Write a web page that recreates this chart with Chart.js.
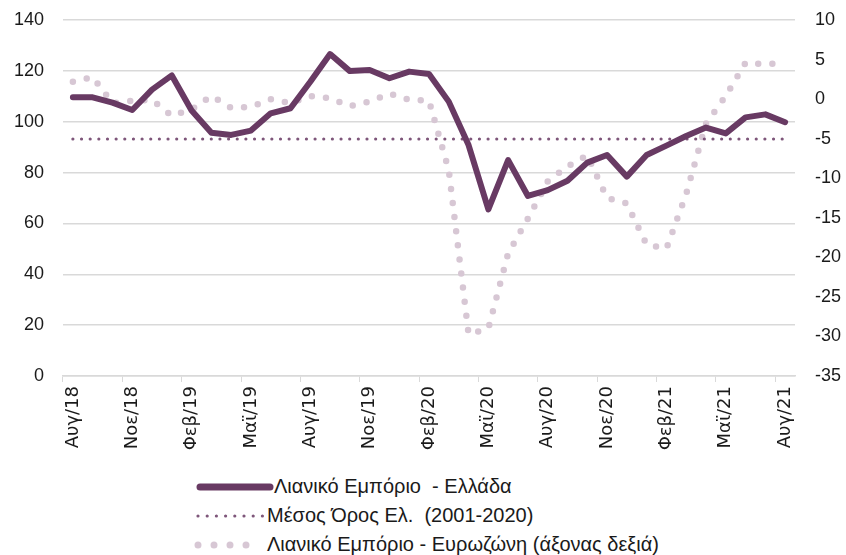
<!DOCTYPE html>
<html lang="el">
<head>
    <meta charset="UTF-8">
    <title>Λιανικό Εμπόριο</title>
    <script src="https://cdn.jsdelivr.net/npm/chart.js"></script>
    <style>
        html, body { margin: 0; padding: 0; background: #fff; }
        #wrap { position: relative; width: 846px; height: 555px; overflow: hidden; }
        #chart { position: absolute; left: 0; top: 0; }
        #legend { position: absolute; left: 190px; top: 472px; font-family: "Liberation Sans", Arial, sans-serif; font-size: 20px; color: #1a1a1a; }
        .row { height: 29px; display: flex; align-items: center; }
        .row svg { flex: none; }
    </style>
</head>
<body>
<div id="wrap">
    <canvas id="chart" width="846" height="470"></canvas>
    <div id="legend">
        <div class="row">
            <svg width="84" height="20"><line x1="10" y1="10" x2="80" y2="10" stroke="#683a63" stroke-width="7" stroke-linecap="round"/></svg>
            <span>Λιανικό Εμπόριο&nbsp; - Ελλάδα</span>
        </div>
        <div class="row">
            <svg width="77" height="20"><line x1="8" y1="10" x2="74" y2="10" stroke="#7e567a" stroke-width="3.2" stroke-linecap="round" stroke-dasharray="0 9.2"/></svg>
            <span>Μέσος Όρος Ελ.&nbsp; (2001-2020)</span>
        </div>
        <div class="row">
            <svg width="77" height="20"><line x1="8" y1="10" x2="72" y2="10" stroke="#d7c7d4" stroke-width="7" stroke-linecap="round" stroke-dasharray="0 16"/></svg>
            <span>Λιανικό Εμπόριο - Ευρωζώνη (άξονας δεξιά)</span>
        </div>
    </div>
</div>

<script>
    const months = ['Αυγ/18', 'Σεπ/18', 'Οκτ/18', 'Νοε/18', 'Δεκ/18', 'Ιαν/19', 'Φεβ/19', 'Μαρ/19', 'Απρ/19',
        'Μαϊ/19', 'Ιουν/19', 'Ιουλ/19', 'Αυγ/19', 'Σεπ/19', 'Οκτ/19', 'Νοε/19', 'Δεκ/19', 'Ιαν/20', 'Φεβ/20',
        'Μαρ/20', 'Απρ/20', 'Μαϊ/20', 'Ιουν/20', 'Ιουλ/20', 'Αυγ/20', 'Σεπ/20', 'Οκτ/20', 'Νοε/20', 'Δεκ/20',
        'Ιαν/21', 'Φεβ/21', 'Μαρ/21', 'Απρ/21', 'Μαϊ/21', 'Ιουν/21', 'Ιουλ/21', 'Αυγ/21'];

    // Greece retail trade (left axis)
    const greece = [109.6, 109.6, 107.5, 104.6, 112.6, 118.2, 104.4, 95.7, 94.8, 96.5, 103.3, 105.3,
        115.7, 126.6, 119.9, 120.3, 117.1, 119.7, 118.8, 107.9, 90.8, 65.5, 84.9, 70.8, 73.1, 76.8,
        83.9, 86.9, 78.4, 86.9, 90.6, 94.4, 97.7, 95.4, 101.7, 102.9, 99.8];

    // long-run average for Greece 2001-2020 (left axis)
    const greeceAvg = 93.2;

    // Eurozone retail trade (right axis)
    const eurozone = [2.2, 2.8, -0.5, -0.2, -0.1, -2.1, -1.3, 0.4, -1.1, -1.0, 0.0, -0.5,
        0.4, 0.1, -0.9, -0.3, 0.7, -0.1, -0.2, -9.0, -29.7, -29.0, -19.5, -15.1, -10.4, -8.5,
        -7.1, -12.5, -13.2, -18.4, -18.9, -12.0, -3.1, 0.4, 4.6, 4.4, 4.6];

    const leftTicks = { min: 0, max: 140, step: 20 };
    const rightTicks = { min: -35, max: 10, step: 5 };

    const tickFont = { family: '"Liberation Sans", Arial, sans-serif', size: 18 };
    const gridGrey = '#d9d9d9';

    // fixed box sizes so the plot area matches the original
    const fixY = (w) => (s) => { s.width = w; s.paddingTop = 0; s.paddingBottom = 0; };

    new Chart(document.getElementById('chart').getContext('2d'), {
        type: 'line',
        data: {
            labels: months,
            datasets: [
                {
                    label: 'Λιανικό Εμπόριο  - Ελλάδα',
                    data: greece,
                    yAxisID: 'y',
                    borderColor: '#683a63',
                    borderWidth: 6,
                    borderJoinStyle: 'round',
                    borderCapStyle: 'round',
                    pointRadius: 0,
                    tension: 0
                },
                {
                    label: 'Μέσος Όρος Ελ.  (2001-2020)',
                    data: months.map(() => greeceAvg),
                    yAxisID: 'y',
                    borderColor: '#7e567a',
                    borderWidth: 3.2,
                    borderCapStyle: 'round',
                    borderDash: [0, 8.65],
                    pointRadius: 0
                },
                {
                    label: 'Λιανικό Εμπόριο - Ευρωζώνη (άξονας δεξιά)',
                    data: eurozone,
                    yAxisID: 'y1',
                    borderColor: '#d7c7d4',
                    borderWidth: 6.5,
                    borderCapStyle: 'round',
                    borderDash: [0, 14.2],
                    pointRadius: 0,
                    tension: 0
                }
            ]
        },
        options: {
            responsive: false,
            animation: false,
            layout: { padding: { top: 20, left: 0, right: 0, bottom: 0 } },
            plugins: {
                legend: { display: false },
                tooltip: { enabled: false }
            },
            scales: {
                x: {
                    offset: true,
                    afterFit: (s) => { s.height = 94; s.paddingLeft = 0; s.paddingRight = 0; },
                    grid: {
                        offset: true,
                        drawOnChartArea: false,
                        tickLength: 6,
                        tickColor: (ctx) => ctx.index % 3 === 0 ? gridGrey : 'rgba(0,0,0,0)'
                    },
                    border: { display: true, color: gridGrey, width: 1.5 },
                    ticks: {
                        autoSkip: false,
                        minRotation: 90,
                        maxRotation: 90,
                        padding: 4,
                        color: '#1a1a1a',
                        font: { family: '"DejaVu Sans", Verdana, sans-serif', size: 18 },
                        callback: function (val, i) { return i % 3 === 0 ? this.getLabelForValue(val) : ''; }
                    }
                },
                y: {
                    position: 'left',
                    min: leftTicks.min,
                    max: leftTicks.max,
                    afterFit: fixY(63),
                    grid: { color: gridGrey, lineWidth: 1.5, drawTicks: false },
                    border: { display: false },
                    ticks: { stepSize: leftTicks.step, padding: 19, color: '#1a1a1a', font: tickFont }
                },
                y1: {
                    position: 'right',
                    min: rightTicks.min,
                    max: rightTicks.max,
                    afterFit: fixY(51),
                    grid: { display: false, drawTicks: false },
                    border: { display: false },
                    ticks: { stepSize: rightTicks.step, padding: 20, color: '#1a1a1a', font: tickFont }
                }
            }
        }
    });
</script>
</body>
</html>
